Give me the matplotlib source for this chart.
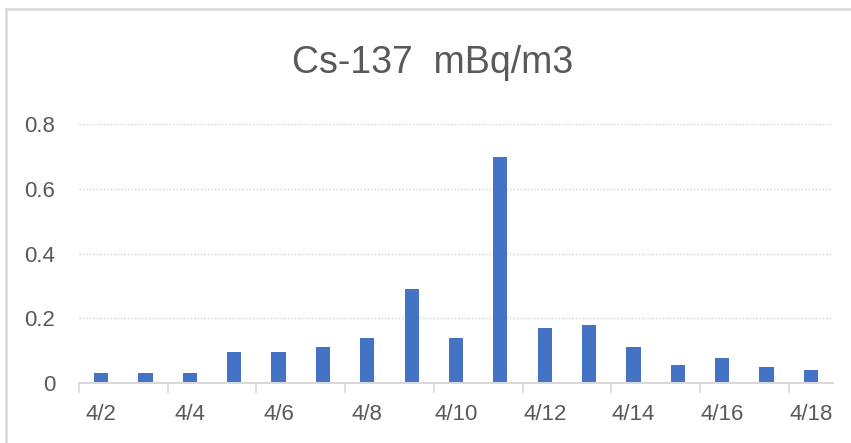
import matplotlib
matplotlib.use("Agg")
import matplotlib.pyplot as plt
from matplotlib.lines import Line2D

dates = ["4/2", "4/3", "4/4", "4/5", "4/6", "4/7", "4/8", "4/9", "4/10",
         "4/11", "4/12", "4/13", "4/14", "4/15", "4/16", "4/17", "4/18"]
values = [0.03, 0.03, 0.03, 0.095, 0.095, 0.11, 0.14, 0.29, 0.14,
          0.70, 0.17, 0.18, 0.11, 0.056, 0.076, 0.05, 0.04]
yticks = [0, 0.2, 0.4, 0.6, 0.8]
ytick_labels = ["0", "0.2", "0.4", "0.6", "0.8"]
title = "Cs-137  mBq/m3"

plt.rcParams['font.family'] = ['Liberation Sans', 'DejaVu Sans']
W, H = 851, 443
fig = plt.figure(figsize=(W / 100, H / 100), dpi=100)
ax = fig.add_axes([79 / W, 1 - 383 / H, (833 - 79) / W, (383 - 124.3) / H])

x = list(range(len(dates)))
ax.bar(x, values, width=0.32, color="#4472C4", zorder=3)
ax.set_xlim(-0.5, len(dates) - 0.5)
ax.set_ylim(0, 0.8)

ax.set_yticks(yticks)
ax.set_yticklabels(ytick_labels)
ax.tick_params(axis='y', length=0, pad=17, labelsize=16, labelcolor="#595959")

for y in yticks[1:]:
    ax.axhline(y, color="#d0d0d0", linewidth=1.0, linestyle=(0, (1, 1.5)), zorder=1)

ax.set_xticks(x[::2])
ax.set_xticklabels(dates[::2])
ax.tick_params(axis='x', length=0, pad=15, labelsize=16, labelcolor="#595959")
minor = [i - 0.5 for i in range(0, len(dates), 2)]
ax.set_xticks(minor, minor=True)
ax.tick_params(axis='x', which='minor', length=7, width=1.2, color="#d9d9d9")

for s in ["top", "right", "left"]:
    ax.spines[s].set_visible(False)
ax.spines["bottom"].set_color("#d9d9d9")
ax.spines["bottom"].set_linewidth(1.5)
ax.spines["bottom"].set_zorder(4)

fig.text(433 / W, 1 - 63 / H, title, ha="center", va="center",
         fontsize=27, color="#595959")

# chart border (left and top visible)
fig.add_artist(Line2D([5.5 / W, 5.5 / W], [0, 1 - 8.5 / H], color="#d9d9d9",
                      linewidth=1.8, transform=fig.transFigure))
fig.add_artist(Line2D([5.5 / W, 1], [1 - 8.5 / H, 1 - 8.5 / H], color="#d9d9d9",
                      linewidth=1.8, transform=fig.transFigure))

fig.savefig("out.png", dpi=100)
